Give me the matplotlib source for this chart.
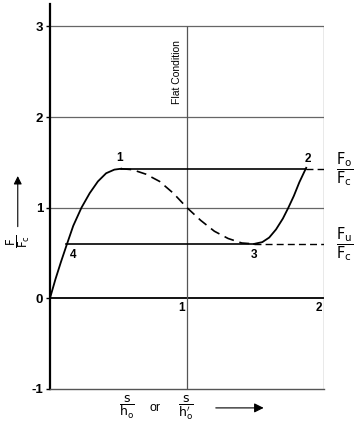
import matplotlib.pyplot as plt

plt.rcParams['font.family'] = ['Liberation Sans', 'DejaVu Sans']
plt.rcParams['mathtext.fontset'] = 'dejavusans'

# solid branch from the origin up to point 1
rise_x = [0, 0.04, 0.08, 0.12, 0.17, 0.23, 0.29, 0.35, 0.41, 0.47, 0.52]
rise_y = [0, 0.21, 0.40, 0.58, 0.80, 1.00, 1.16, 1.29, 1.38, 1.42, 1.43]

# dashed (unstable) branch from point 1 down to point 3
fall_x = [0.52, 0.60, 0.70, 0.80, 0.90, 1.00, 1.10, 1.20, 1.30, 1.40, 1.49]
fall_y = [1.43, 1.42, 1.37, 1.29, 1.16, 1.00, 0.86, 0.74, 0.66, 0.61, 0.60]

# solid branch from point 3 up to point 2
back_x = [1.49, 1.55, 1.60, 1.65, 1.70, 1.74, 1.78, 1.82, 1.87]
back_y = [0.60, 0.62, 0.67, 0.76, 0.88, 1.00, 1.13, 1.28, 1.44]

f_upper = 1.43   # Fo/Fc level
f_lower = 0.60   # Fu/Fc level
point_labels = ['1', '2', '3', '4']
point_x = [0.51, 1.88, 1.49, 0.17]
point_y = [1.55, 1.54, 0.48, 0.48]

y_ticks = [-1, 0, 1, 2, 3]

fig = plt.figure(figsize=(3.62, 4.25), dpi=100)
ax = fig.add_axes([0.138, 0.085, 0.757, 0.906])
ax.set_xlim(0, 2)
ax.set_ylim(-1, 3.25)

for s in ['top', 'right']:
    ax.spines[s].set_visible(False)
ax.spines['left'].set_linewidth(1.6)
ax.spines['bottom'].set_linewidth(1.0)
ax.spines['bottom'].set_color('#555555')

# grid frame
ax.hlines([1, 2, 3], 0, 2, color='#666666', lw=0.9)
ax.hlines(0, 0, 2, color='black', lw=1.3)
ax.vlines([1, 2], -1, 3, color='#555555', lw=0.9)

# characteristic curve
ax.plot(rise_x, rise_y, color='black', lw=1.3)
ax.plot(fall_x, fall_y, color='black', lw=1.2, dashes=(6, 3.5))
ax.plot(back_x, back_y, color='black', lw=1.3)

# horizontal force levels
ax.plot([rise_x[-1], back_x[-1]], [f_upper, f_upper], color='black', lw=1.2)
ax.plot([back_x[-1], 2], [f_upper, f_upper], color='black', lw=1.0, dashes=(5, 3))
ax.plot([rise_x[3], fall_x[-1]], [f_lower, f_lower], color='black', lw=1.2)
ax.plot([fall_x[-1], 2], [f_lower, f_lower], color='black', lw=1.0, dashes=(5, 3))

for lab, px, py in zip(point_labels, point_x, point_y):
    ax.text(px, py, lab, ha='center', va='center', fontsize=8.5, fontweight='bold')

ax.set_yticks(y_ticks)
ax.set_yticklabels([str(t) for t in y_ticks], fontsize=9.5, fontweight='bold')
ax.tick_params(axis='y', length=3, width=1, pad=2)
ax.set_xticks([])

ax.text(0.985, -0.04, '1', ha='right', va='top', fontsize=8.5, fontweight='bold')
ax.text(1.985, -0.04, '2', ha='right', va='top', fontsize=8.5, fontweight='bold')

ax.text(0.93, 2.5, 'Flat Condition', rotation=90, ha='center', va='center', fontsize=7.5)

# right hand labels
ax.text(2.15, f_upper, r'$\dfrac{\mathrm{F_o}}{\mathrm{F_c}}$', ha='center', va='center',
        fontsize=10.5, clip_on=False)
ax.text(2.15, f_lower, r'$\dfrac{\mathrm{F_u}}{\mathrm{F_c}}$', ha='center', va='center',
        fontsize=10.5, clip_on=False)

# y axis label with arrow
ax.text(-0.235, 0.63, r'$\dfrac{\mathrm{F}}{\mathrm{F_c}}$', rotation=90, ha='center', va='center',
        fontsize=8.5, clip_on=False)
ax.annotate('', xy=(-0.235, 1.38), xytext=(-0.235, 0.76), annotation_clip=False,
            arrowprops=dict(arrowstyle='-|>', color='black', lw=0.8, mutation_scale=12))

# x axis label with arrow
ax.text(0.56, -1.21, r'$\dfrac{\mathrm{s}}{\mathrm{h_o}}$', ha='center', va='center', fontsize=9, clip_on=False)
ax.text(0.77, -1.21, 'or', ha='center', va='center', fontsize=9, clip_on=False)
ax.text(0.99, -1.21, r"$\dfrac{\mathrm{s}}{\mathrm{h}^{\prime}_{\mathrm{o}}}$", ha='center', va='center', fontsize=9, clip_on=False)
ax.annotate('', xy=(1.58, -1.21), xytext=(1.19, -1.21), annotation_clip=False,
            arrowprops=dict(arrowstyle='-|>', color='black', lw=0.8, mutation_scale=14))

fig.savefig('out.png', dpi=100)
